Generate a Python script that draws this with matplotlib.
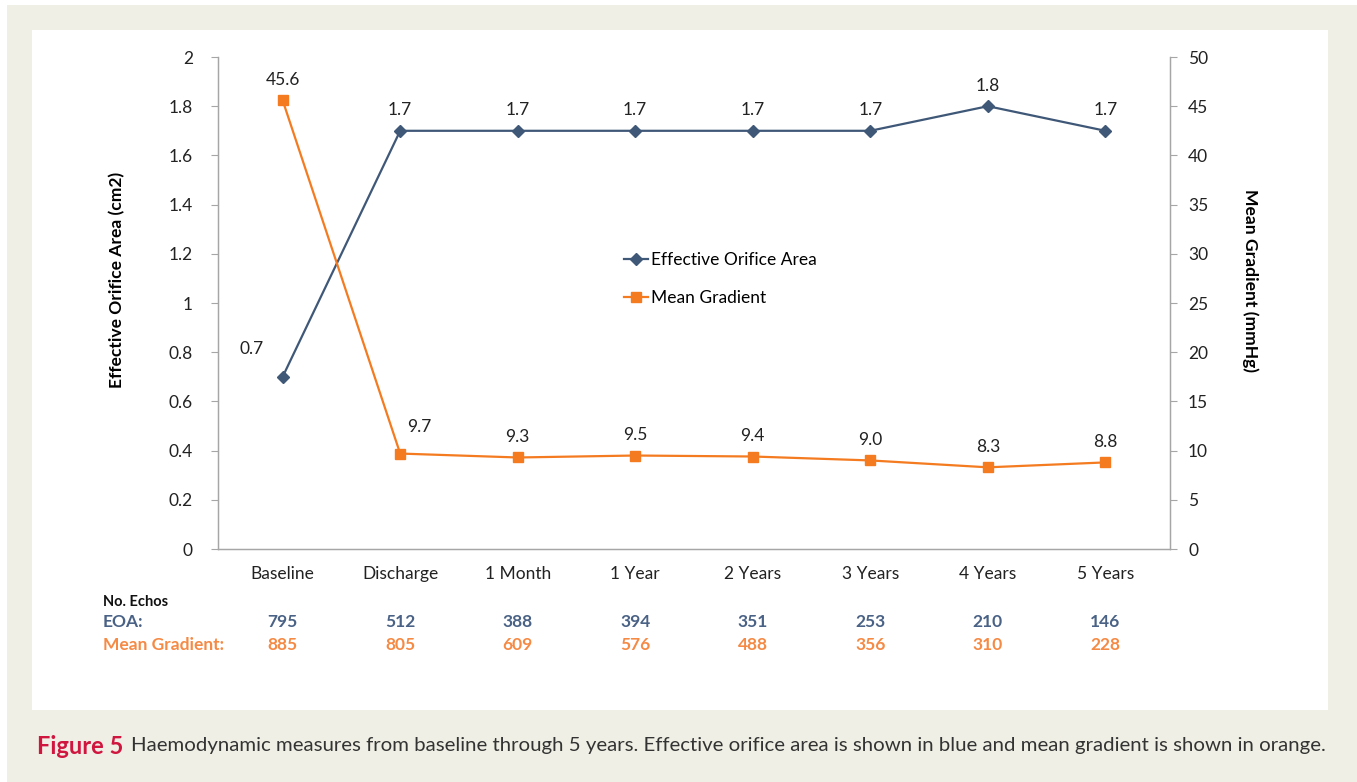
import matplotlib
matplotlib.use("Agg")
import matplotlib.pyplot as plt
from matplotlib.patches import Rectangle

categories = ["Baseline", "Discharge", "1 Month", "1 Year", "2 Years", "3 Years", "4 Years", "5 Years"]
eoa = [0.7, 1.7, 1.7, 1.7, 1.7, 1.7, 1.8, 1.7]
gradient = [45.6, 9.7, 9.3, 9.5, 9.4, 9.0, 8.3, 8.8]
echos_eoa = [795, 512, 388, 394, 351, 253, 210, 146]
echos_grad = [885, 805, 609, 576, 488, 356, 310, 228]

BLUE = "#3F5878"
ORANGE = "#F47B20"
TXT_BLUE = "#4A6285"
TXT_ORANGE = "#F58A45"
BEIGE = "#EFEFE5"
GREY = "#A6A6A6"
FS = 12.5

plt.rcParams['font.family'] = ['Lato', 'DejaVu Sans']

W, H = 1357, 782
fig = plt.figure(figsize=(W / 100, H / 100), dpi=100)
fig.patch.set_facecolor("white")

def px(x0, y0, w, h):
    return (x0 / W, 1 - (y0 + h) / H, w / W, h / H)

fig.patches.append(Rectangle(px(7, 5, W - 7, H - 5)[:2], (W - 7) / W, (H - 5) / H,
                             transform=fig.transFigure, facecolor=BEIGE, edgecolor="none", zorder=-2))
fig.patches.append(Rectangle(px(32, 30, 1296, 680)[:2], 1296 / W, 680 / H,
                             transform=fig.transFigure, facecolor="white", edgecolor="none", zorder=-1))

ax = fig.add_axes(px(218, 57, 952, 492))
ax.set_facecolor("none")
ax2 = ax.twinx()

x = list(range(len(categories)))
ax.plot(x, eoa, color=BLUE, lw=1.6, marker="D", ms=6.5, label="Effective Orifice Area", zorder=3)
ax2.plot(x, gradient, color=ORANGE, lw=1.6, marker="s", ms=6.5, label="Mean Gradient", zorder=3)

ax.set_xlim(-0.55, 7.55)
ax.set_ylim(0, 2)
ax2.set_ylim(0, 50)
ax.set_yticks([0, 0.2, 0.4, 0.6, 0.8, 1, 1.2, 1.4, 1.6, 1.8, 2])
ax.set_yticklabels(["0", "0.2", "0.4", "0.6", "0.8", "1", "1.2", "1.4", "1.6", "1.8", "2"])
ax2.set_yticks(range(0, 51, 5))

ax.set_xticks(x)
ax.set_xticklabels(categories)
ax.tick_params(axis="x", length=0, pad=12, labelsize=FS, colors="#222222")
ax.tick_params(axis="y", length=5, width=0.8, color=GREY, pad=13, labelsize=FS, labelcolor="#222222")
ax2.tick_params(axis="y", length=5, width=0.8, color=GREY, pad=8, labelsize=FS, labelcolor="#222222")

for a in (ax, ax2):
    a.spines["top"].set_visible(False)
    for s in ("left", "right", "bottom"):
        a.spines[s].set_color(GREY)
        a.spines[s].set_linewidth(0.9)

ax.set_ylabel("Effective Orifice Area (cm2)", fontsize=12.6, fontweight="bold")
ax2.set_ylabel("Mean Gradient (mmHg)", fontsize=12.6, fontweight="bold", rotation=270, va="center")
ax.yaxis.set_label_coords((125 - 218) / 952, (549 - 280) / 492)
ax2.yaxis.set_label_coords((1250 - 218) / 952, (549 - 280) / 492)

for i, v in enumerate(eoa):
    dx, dy = (-22, 14) if i == 0 else (0, 9)
    ax.annotate(f"{v:.1f}", (i, v), xytext=(dx, dy), textcoords="offset points",
                ha="center", va="bottom", fontsize=FS, color="#222222")
for i, v in enumerate(gradient):
    dx, dy = (14, 13) if i == 1 else (0, 9)
    ax2.annotate(f"{v:.1f}", (i, v), xytext=(dx, dy), textcoords="offset points",
                 ha="center", va="bottom", fontsize=FS, color="#222222")

h1, l1 = ax.get_legend_handles_labels()
h2, l2 = ax2.get_legend_handles_labels()
ax.legend(h1 + h2, l1 + l2, loc="center left", bbox_to_anchor=((608 - 218) / 952, (549 - 279) / 492),
          frameon=False, fontsize=FS, labelspacing=1.25, handlelength=1.4, handletextpad=0.15)

# counts table below the axis
fig.text(103 / W, 1 - 602 / H, "No. Echos", fontsize=10.5, fontweight="bold", color="#111111", va="center")
fig.text(103 / W, 1 - 622 / H, "EOA:", fontsize=FS, fontweight="bold", color=TXT_BLUE, va="center")
fig.text(103 / W, 1 - 645 / H, "Mean Gradient:", fontsize=FS, fontweight="bold", color=TXT_ORANGE, va="center")
for i in x:
    xf = ax.transData.transform((i, 0))[0] / fig.bbox.width
    fig.text(xf, 1 - 622 / H, str(echos_eoa[i]), fontsize=FS, fontweight="bold", color=TXT_BLUE,
             ha="center", va="center")
    fig.text(xf, 1 - 645 / H, str(echos_grad[i]), fontsize=FS, fontweight="bold", color=TXT_ORANGE,
             ha="center", va="center")

# caption
cap1 = fig.text(37 / W, 1 - 746 / H, "Figure 5", fontsize=17, fontweight="bold", color="#D0153F", va="center")
fig.canvas.draw()
bb = cap1.get_window_extent()
fig.text((bb.x1 + 8) / W, 1 - 746 / H,
         "Haemodynamic measures from baseline through 5 years. Effective orifice area is shown in blue and mean gradient is shown in orange.",
         fontsize=14.7, color="#333333", va="center")

fig.savefig("out.png", dpi=100, facecolor=fig.get_facecolor())
